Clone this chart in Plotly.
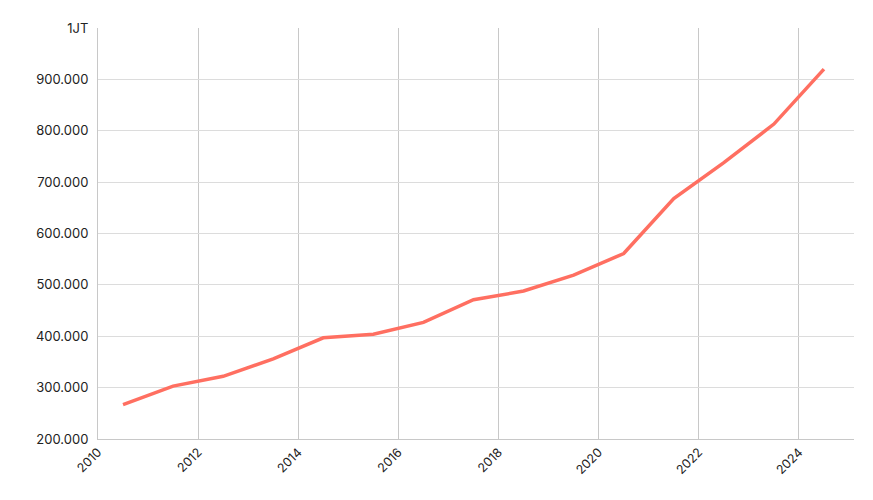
import plotly.graph_objects as go

years = [2010.5, 2011.5, 2012.5, 2013.5, 2014.5, 2015.5, 2016.5, 2017.5, 2018.5, 2019.5, 2020.5, 2021.5, 2022.5, 2023.5, 2024.5]
values = [267000, 303000, 322000, 356000, 397000, 404000, 427000, 471000, 488000, 519000, 561000, 668000, 738000, 813000, 920000]
y_ticks = [200000, 300000, 400000, 500000, 600000, 700000, 800000, 900000, 1000000]
y_labels = ["200.000", "300.000", "400.000", "500.000", "600.000", "700.000", "800.000", "900.000", "1JT"]
x_ticks = [2010, 2012, 2014, 2016, 2018, 2020, 2022, 2024]

fig = go.Figure(go.Scatter(x=years, y=values, mode="lines",
                           line=dict(color="#ff6f61", width=3.5)))
fig.update_layout(
    width=873, height=500, plot_bgcolor="white", paper_bgcolor="white",
    margin=dict(l=90, r=27, t=12, b=69), showlegend=False,
    font=dict(family="Inter", size=13, color="#222"),
)
fig.update_xaxes(range=[2010, 2025.1], tickvals=x_ticks, ticktext=[str(t) for t in x_ticks],
                 tickangle=-45, showgrid=True, gridcolor="#c8c8c8", gridwidth=1,
                 showline=True, linecolor="#c8c8c8", zeroline=False, ticks="", tickfont=dict(size=12.5))
fig.update_yaxes(range=[200000, 1000000], tickvals=y_ticks, ticktext=y_labels,
                 showgrid=True, gridcolor="#dcdcdc", gridwidth=1, zeroline=False,
                 showline=True, linecolor="#c8c8c8", ticks="", ticklabelstandoff=6)
fig.write_html("out.html")
